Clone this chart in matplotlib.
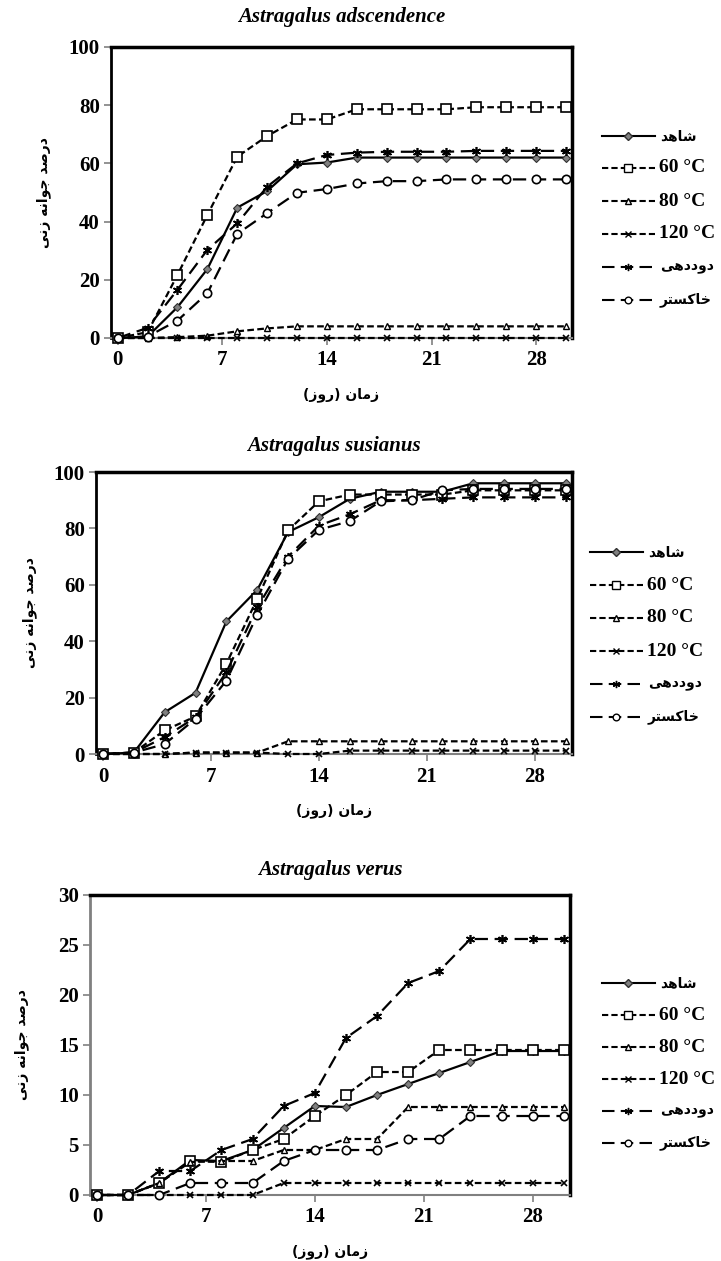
import matplotlib
matplotlib.use('Agg')
import matplotlib.pyplot as plt
from matplotlib.lines import Line2D

# روزهای اندازه گیری
days = [0, 2, 4, 6, 8, 10, 12, 14, 16, 18, 20, 22, 24, 26, 28, 30]

# Astragalus adscendence
adsc_shahed = [0, 0.5, 10.6, 23.7, 44.8, 50.5, 59.7, 60.3, 62, 62, 62, 62, 62, 62, 62, 62]
adsc_60 = [0, 2, 21.7, 42.3, 62.3, 69.4, 75.1, 75.1, 78.6, 78.6, 78.6, 78.6, 79.3, 79.3, 79.3, 79.3]
adsc_80 = [0, 0, 0.3, 0.8, 2.3, 3.3, 4, 4, 4, 4, 4, 4, 4, 4, 4, 4]
adsc_120 = [0, 0, 0, 0, 0, 0, 0, 0, 0, 0, 0, 0, 0, 0, 0, 0]
adsc_smoke = [0, 3.5, 16.6, 30.3, 39.4, 52, 60, 62.9, 63.7, 64, 64, 64, 64.3, 64.3, 64.3, 64.3]
adsc_ash = [0, 0.5, 6, 15.4, 35.8, 42.9, 49.9, 51.2, 53.1, 53.9, 53.9, 54.5, 54.5, 54.5, 54.5, 54.5]

# Astragalus susianus
sus_shahed = [0, 0.5, 14.8, 21.7, 47, 58.2, 78.7, 84, 90.5, 93, 93, 93, 96, 96, 96, 96]
sus_60 = [0, 0.5, 8.4, 13.3, 32, 55, 79.3, 89.6, 92, 92, 92, 92, 93.5, 93.5, 93.5, 93.5]
sus_80 = [0, 0, 0, 0.5, 0.5, 0.5, 4.5, 4.5, 4.5, 4.5, 4.5, 4.5, 4.5, 4.5, 4.5, 4.5]
sus_120 = [0, 0, 0, 0.5, 0.5, 0.5, 0, 0, 1.2, 1.2, 1.2, 1.2, 1.2, 1.2, 1.2, 1.2]
sus_smoke = [0, 0.5, 6, 13, 29, 52, 70, 81, 85, 90, 90, 90.5, 91, 91, 91, 91]
sus_ash = [0, 0.5, 3.5, 12.5, 26, 49.3, 69.2, 79.5, 82.6, 89.6, 90, 93.5, 94, 94, 94, 94]

# Astragalus verus
ver_shahed = [0, 0, 1.2, 3.5, 3.4, 4.5, 6.7, 8.9, 8.8, 10, 11.1, 12.2, 13.3, 14.4, 14.4, 14.4]
ver_60 = [0, 0, 1.2, 3.4, 3.3, 4.5, 5.6, 7.9, 10, 12.3, 12.3, 14.5, 14.5, 14.5, 14.5, 14.5]
ver_80 = [0, 0, 1.2, 3.3, 3.4, 3.4, 4.5, 4.5, 5.6, 5.6, 8.8, 8.8, 8.8, 8.8, 8.8, 8.8]
ver_120 = [0, 0, 0, 0, 0, 0, 1.2, 1.2, 1.2, 1.2, 1.2, 1.2, 1.2, 1.2, 1.2, 1.2]
ver_smoke = [0, 0, 2.4, 2.4, 4.5, 5.6, 8.9, 10.2, 15.7, 17.9, 21.2, 22.4, 25.6, 25.6, 25.6, 25.6]
ver_ash = [0, 0, 0, 1.2, 1.2, 1.2, 3.4, 4.5, 4.5, 4.5, 5.6, 5.6, 7.9, 7.9, 7.9, 7.9]

# متن فارسی به صورت شکل های نمایشی (چپ به راست)
SHAHED = '\uFEAA\uFEEB\uFE8E\uFEB7'                      # شاهد
DUDDEHI = '\uFEF0\uFEEB\uFEA9\uFEA9\uFEED\uFEA9'          # دوددهی
KHAKESTAR = '\uFEAE\uFE98\uFEB4\uFB90\uFE8E\uFEA7'        # خاکستر
XLABEL = '(\uFEAF\uFEED\uFEAD) \uFEE5\uFE8E\uFEE3\uFEAF'  # زمان (روز)
YLABEL = ('\uFEF0\uFEE7\uFEAF \uFEEA\uFEE7\uFE8D\uFEEE\uFE9F '
          '\uFEAA\uFEBB\uFEAD\uFEA9')                     # درصد جوانه زنی

labels = [SHAHED, '60 \u00b0C', '80 \u00b0C', '120 \u00b0C', DUDDEHI, KHAKESTAR]
persian = [True, False, False, False, True, True]

short_dash = (0, (3, 1.5))
long_dash = (0, (6, 3))
styles = [
    dict(ls='-', marker='D', mfc='#808080', mec='#303030', ms=4.5, mew=0.8),
    dict(ls=short_dash, marker='s', mfc='white', mec='black', ms=7, mew=1.2),
    dict(ls=short_dash, marker='^', mfc='white', mec='black', ms=5, mew=1.0),
    dict(ls=short_dash, marker='x', mfc='none', mec='black', ms=5, mew=1.2),
    dict(ls=long_dash, marker=(6, 2, 0), mfc='none', mec='black', ms=6.5, mew=1.2),
    dict(ls=long_dash, marker='o', mfc='white', mec='black', ms=6, mew=1.2),
]

W, H = 721, 1261
fig = plt.figure(figsize=(W / 100, H / 100), dpi=100)

serif_b = dict(family='Liberation Serif', weight='bold')
fa_font = dict(family='DejaVu Sans', weight='bold')


def rect(l, r, t, b):
    return [l / W, 1 - b / H, (r - l) / W, (b - t) / H]


panels = [
    dict(title='Astragalus adscendence', series=[adsc_shahed, adsc_60, adsc_80, adsc_120, adsc_smoke, adsc_ash],
         ymax=100, yticks=[0, 20, 40, 60, 80, 100], box=(111, 572, 47, 338), title_y=17,
         ylab_x=44, left_col='black', leg_x=602, leg_y=[136, 168, 201, 234, 267, 300]),
    dict(title='Astragalus susianus', series=[sus_shahed, sus_60, sus_80, sus_120, sus_smoke, sus_ash],
         ymax=100, yticks=[0, 20, 40, 60, 80, 100], box=(96, 572, 472, 754), title_y=446,
         ylab_x=30, left_col='black', leg_x=590, leg_y=[552, 585, 618, 651, 684, 717]),
    dict(title='Astragalus verus', series=[ver_shahed, ver_60, ver_80, ver_120, ver_smoke, ver_ash],
         ymax=30, yticks=[0, 5, 10, 15, 20, 25, 30], box=(90, 570, 895, 1195), title_y=870,
         ylab_x=22, left_col='#808080', leg_x=602, leg_y=[983, 1015, 1047, 1079, 1111, 1143]),
]

for p in panels:
    l, r, t, b = p['box']
    ax = fig.add_axes(rect(l, r, t, b))
    for vals, st in zip(p['series'], styles):
        ax.plot(days, vals, color='black', lw=1.6, ls=st['ls'], marker=st['marker'],
                mfc=st['mfc'], mec=st['mec'], ms=st['ms'], mew=st['mew'],
                clip_on=False, zorder=3)
    ax.set_xlim(-0.45, 30.4)
    ax.set_ylim(0, p['ymax'])
    ax.set_xticks([0, 7, 14, 21, 28])
    ax.set_yticks(p['yticks'])
    for lab in ax.get_xticklabels() + ax.get_yticklabels():
        lab.set_fontproperties(serif_b)
        lab.set_fontsize(15)
    ax.tick_params(axis='both', direction='out', length=5, width=1.2, color='#808080')
    ax.tick_params(axis='x', pad=4)
    ax.tick_params(axis='y', pad=3)
    ax.spines['top'].set_linewidth(2.5)
    ax.spines['right'].set_linewidth(2.5)
    ax.spines['left'].set_linewidth(2)
    ax.spines['left'].set_color(p['left_col'])
    ax.spines['bottom'].set_linewidth(1.5)
    ax.spines['bottom'].set_color('#808080')

    cx = (l + r) / 2 / W
    fig.text(cx, 1 - p['title_y'] / H, p['title'], ha='center', va='center',
             family='Liberation Serif', weight='bold', style='italic', fontsize=15)
    fig.text(cx, 1 - (b + 57) / H, XLABEL, ha='center', va='center', fontsize=10, **fa_font)
    fig.text(p['ylab_x'] / W, 1 - (t + b) / 2 / H, YLABEL, ha='center', va='center',
             rotation=90, fontsize=10, **fa_font)

    # راهنما
    x0 = p['leg_x']
    for st, lab, is_fa, yy in zip(styles, labels, persian, p['leg_y']):
        yf = 1 - yy / H
        fig.add_artist(Line2D([x0 / W, (x0 + 53) / W], [yf, yf], transform=fig.transFigure,
                              color='black', lw=1.5, ls=st['ls']))
        fig.add_artist(Line2D([(x0 + 26) / W], [yf], transform=fig.transFigure, ls='none',
                              marker=st['marker'], mfc=st['mfc'], mec=st['mec'],
                              ms=st['ms'] * 0.8, mew=1.0))
        if is_fa:
            fig.text((x0 + 58) / W, yf, lab, ha='left', va='center', fontsize=10, **fa_font)
        else:
            fig.text((x0 + 57) / W, yf, lab, ha='left', va='center', fontsize=14, **serif_b)

fig.savefig('out.png', dpi=100)
